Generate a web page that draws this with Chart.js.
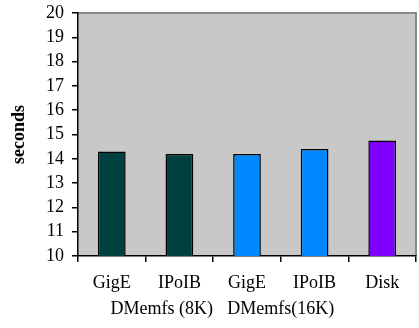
<!DOCTYPE html>
<html>
<head>
<meta charset="utf-8">
<script src="https://cdn.jsdelivr.net/npm/chart.js@4/dist/chart.umd.min.js"></script>
<style>
  html, body { margin: 0; padding: 0; background: #ffffff; }
  #wrap { width: 419px; height: 328px; }
</style>
</head>
<body>
<div id="wrap"><canvas id="c" width="419" height="328"></canvas></div>
<script>
// Network / configuration labels along the category axis
const categories = ['GigE', 'IPoIB', 'GigE', 'IPoIB', 'Disk'];
// Elapsed time per configuration (seconds)
const seconds = [14.3, 14.2, 14.2, 14.4, 14.75];
// Group captions under the category labels, with the category position they sit at
const groupLabels = ['DMemfs (8K)', 'DMemfs(16K)'];
const groupPositions = [0.74, 2.5];
// Value axis range and step
const yMin = 10, yMax = 20, yStep = 1;

const barColors = ['#004040', '#004040', '#0088FF', '#0088FF', '#8000FF'];
const serif = "'Liberation Serif', 'Times New Roman', serif";

const plotFrame = {
  id: 'plotFrame',
  beforeDraw(chart) {
    const { ctx, chartArea: a } = chart;
    ctx.save();
    ctx.fillStyle = '#C8C8C8';
    ctx.fillRect(a.left, a.top, a.right - a.left, a.bottom - a.top);
    ctx.strokeStyle = '#8A8A8A';
    ctx.lineWidth = 2;
    ctx.beginPath();
    ctx.moveTo(a.left, a.top);
    ctx.lineTo(a.right, a.top);
    ctx.lineTo(a.right, a.bottom);
    ctx.stroke();
    ctx.restore();
  },
  afterDraw(chart) {
    const { ctx } = chart;
    const x = chart.scales.x;
    ctx.save();
    ctx.fillStyle = '#000';
    ctx.font = '18px ' + serif;
    ctx.textAlign = 'center';
    ctx.textBaseline = 'middle';
    groupLabels.forEach((t, i) => {
      ctx.fillText(t, x.getPixelForValue(groupPositions[i]), 309);
    });
    ctx.restore();
  }
};

new Chart(document.getElementById('c'), {
  type: 'bar',
  data: {
    labels: categories,
    datasets: [{
      data: seconds,
      backgroundColor: barColors,
      borderColor: '#000',
      borderWidth: 1.5,
      barPercentage: 0.41,
      categoryPercentage: 1
    }]
  },
  options: {
    responsive: false,
    animation: false,
    events: [],
    layout: { padding: { top: 13, right: 3, left: 0, bottom: 0 } },
    plugins: { legend: { display: false }, tooltip: { enabled: false } },
    scales: {
      x: {
        afterFit(s) { s.height = 72; s.paddingLeft = 0; s.paddingRight = 0; },
        border: { display: true, color: '#000', width: 1.5 },
        grid: { display: true, offset: true, drawOnChartArea: false, color: '#000', lineWidth: 1.5, tickLength: 6 },
        ticks: { color: '#000', font: { family: serif, size: 18 }, padding: 10, maxRotation: 0 }
      },
      y: {
        min: yMin, max: yMax,
        afterFit(s) { s.width = 78; s.paddingTop = 0; s.paddingBottom = 0; },
        border: { display: true, color: '#000', width: 1.5 },
        grid: { display: true, drawOnChartArea: false, color: '#000', lineWidth: 1.5, tickLength: 6 },
        ticks: { stepSize: yStep, autoSkip: false, color: '#000', font: { family: serif, size: 18 }, padding: 8 },
        title: { display: true, text: 'seconds', color: '#000', font: { family: serif, size: 18, weight: 'bold' }, padding: { top: 9, bottom: 0 } }
      }
    }
  },
  plugins: [plotFrame]
});
</script>
</body>
</html>
